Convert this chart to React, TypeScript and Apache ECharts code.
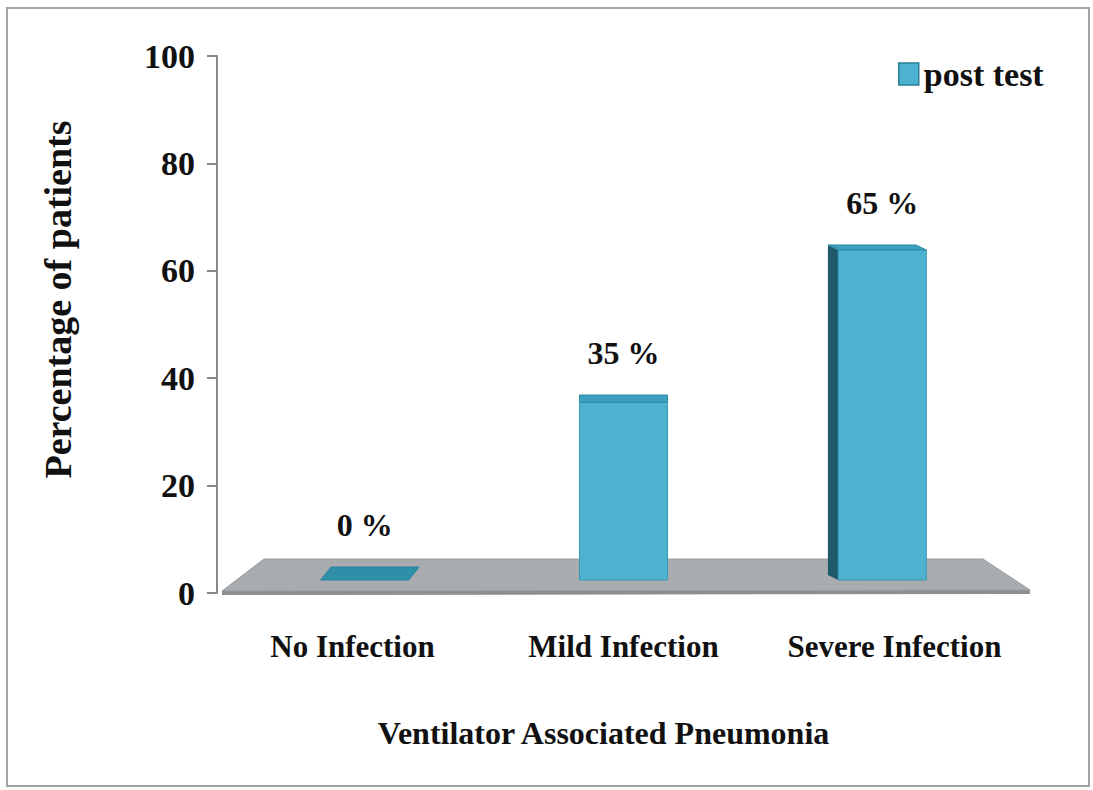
import React, { useEffect, useRef } from "react";
import * as echarts from "echarts";

const categories = ["No Infection", "Mild Infection", "Severe Infection"];
const postTest = [0, 35, 65];
const seriesName = "post test";
const yTicks = [0, 20, 40, 60, 80, 100];

const FONT = "'Liberation Serif', 'Times New Roman', serif";

export default function App() {
  const ref = useRef<HTMLDivElement>(null);
  useEffect(() => {
    if (!ref.current) return;
    const chart = echarts.init(ref.current, null, { renderer: "svg" });
    const option: any = {
      animation: false,
      backgroundColor: "#ffffff",
      grid: { left: 217, right: 63, top: 56, bottom: 197, containLabel: false },
      legend: {
        left: 893,
        top: 52,
        itemWidth: 20,
        itemHeight: 22,
        itemGap: 6,
        textStyle: { fontFamily: FONT, fontWeight: "bold", fontSize: 34, color: "#111" },
        data: [
          {
            name: seriesName,
            icon: "rect",
            itemStyle: { color: "#4db2cf", borderColor: "#2a7d96", borderWidth: 1.5 },
          },
        ],
      },
      xAxis: {
        type: "category",
        data: categories,
        axisLine: { show: false },
        axisTick: { show: false },
        axisLabel: {
          interval: 0,
          hideOverlap: false,
          margin: 38,
          fontFamily: FONT,
          fontWeight: "bold",
          fontSize: 31,
          color: "#111",
        },
        name: "Ventilator Associated Pneumonia",
        nameLocation: "middle",
        nameGap: 124,
        nameTextStyle: {
          fontFamily: FONT,
          fontWeight: "bold",
          fontSize: 32,
          color: "#111",
          padding: [0, 40, 0, 0],
        },
      },
      yAxis: [
        {
          type: "value",
          min: yTicks[0],
          max: yTicks[yTicks.length - 1],
          interval: 20,
          axisLine: { show: true, lineStyle: { color: "#888", width: 2 } },
          axisTick: { show: true, length: 10, lineStyle: { color: "#888", width: 2 } },
          splitLine: { show: false },
          axisLabel: {
            margin: 22,
            fontFamily: FONT,
            fontWeight: "bold",
            fontSize: 34,
            color: "#111",
          },
          name: "Percentage of patients",
          nameLocation: "middle",
          nameGap: 140,
          nameTextStyle: {
            fontFamily: FONT,
            fontWeight: "bold",
            fontSize: 38,
            color: "#111",
            padding: [0, 0, 0, 50],
          },
        },
        {
          type: "value",
          min: -2.56,
          max: 103.2,
          show: false,
        },
      ],
      graphic: [
        {
          type: "rect",
          shape: { x: 7, y: 8, width: 1082, height: 778 },
          style: { fill: "none", stroke: "#a3a3a3", lineWidth: 2 },
          z: 0,
        },
        {
          type: "polygon",
          shape: { points: [[222, 591], [1030, 590], [1030, 594], [222, 595]] },
          style: { fill: "#8c8f92" },
          z: 0,
        },
        {
          type: "polygon",
          shape: { points: [[264, 559], [983, 559], [1030, 590], [222, 591]] },
          style: { fill: "#a9acaf", stroke: "#9a9da0", lineWidth: 1 },
          z: 0,
        },
      ],
      series: [
        {
          name: seriesName,
          type: "custom",
          xAxisIndex: 0,
          yAxisIndex: 1,
          itemStyle: { color: "#4db2cf" },
          data: postTest.map((v, i) => [i, v]),
          renderItem: (params: any, api: any) => {
            const idx = api.value(0);
            const val = api.value(1);
            const base = api.coord([idx, 0]);
            const top = api.coord([idx, val]);
            const bandW = api.size([1, 0])[0];
            const cs = params.coordSys;
            const vx = cs.x + cs.width / 2;
            const w = bandW * 0.325;
            const cx = base[0] + (vx - base[0]) * 0.045;
            const x0 = cx - w / 2;
            const x1 = cx + w / 2;
            const yb = base[1];
            const yt = top[1];
            const dx = (vx - cx) * 0.04;
            const frac = (yt - cs.y) / (yb - cs.y);
            const dy = val > 0 ? -(10 - (5 * (1 - frac)) / 0.63) : -13;
            const children: any[] = [];
            if (val > 0) {
              const sx = dx < 0 ? x0 : x1;
              children.push({
                type: "polygon",
                shape: { points: [[sx, yt], [sx + dx, yt + dy], [sx + dx, yb + dy], [sx, yb]] },
                style: { fill: "#1e5a6c" },
              });
              children.push({
                type: "rect",
                shape: { x: x0, y: yt, width: w, height: yb - yt },
                style: { fill: "#4db2cf", stroke: "#3a98b4", lineWidth: 1 },
              });
            }
            children.push({
              type: "polygon",
              shape: { points: [[x0, yt], [x1, yt], [x1 + dx, yt + dy], [x0 + dx, yt + dy]] },
              style: { fill: val > 0 ? "#3c9fbd" : "#2f8fa9", stroke: val > 0 ? "#2f8aa6" : "#2a849d", lineWidth: 1 },
            });
            children.push({
              type: "text",
              x: cx,
              y: yt + dy - 26,
              style: {
                text: `${val} %`,
                fontFamily: FONT,
                fontWeight: "bold",
                fontSize: 32,
                fill: "#111",
                align: "center",
                verticalAlign: "bottom",
              },
            });
            return { type: "group", children };
          },
        },
      ],
    };
    chart.setOption(option);
    return () => chart.dispose();
  }, []);
  return (
    <div
      ref={ref}
      style={{ position: "absolute", left: 0, top: 0, width: 1093, height: 790 }}
    />
  );
}
